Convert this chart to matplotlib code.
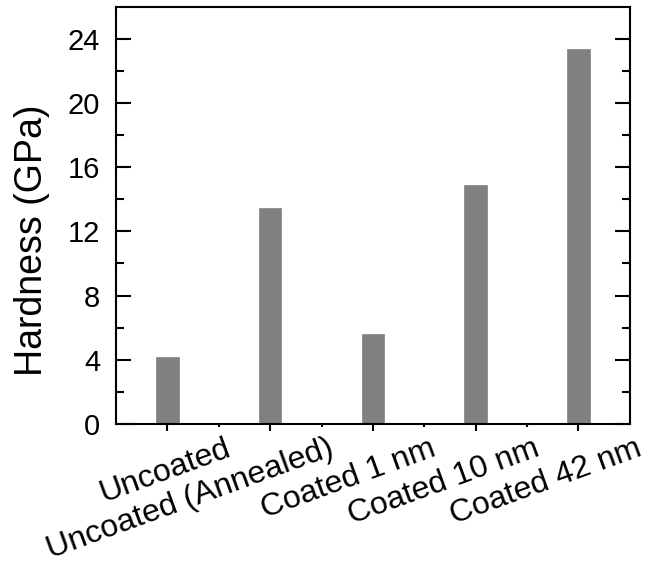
import matplotlib.pyplot as plt
import matplotlib.transforms as mtransforms
import numpy as np

plt.rcParams['font.family'] = ['Liberation Sans', 'DejaVu Sans']

samples = ["Uncoated", "Uncoated (Annealed)", "Coated 1 nm", "Coated 10 nm", "Coated 42 nm"]
hardness = [4.18, 13.45, 5.6, 14.9, 23.35]

fig = plt.figure(figsize=(6.48, 5.69), dpi=100)
ax = fig.add_axes([0.179, 0.255, 0.793, 0.733])

x = np.arange(len(samples))
ax.bar(x, hardness, width=0.22, color="#808080", edgecolor="#8c8c8c", linewidth=0.6)

ax.set_xlim(-0.5, len(samples) - 0.5)
ax.set_ylim(0, 26)
ax.set_yticks(np.arange(0, 25, 4))
ax.set_yticks(np.arange(2, 26, 4), minor=True)
ax.set_xticks(x)
ax.set_xticks(x[:-1] + 0.5, minor=True)
ax.set_xticklabels(samples, rotation=20, ha="right", va="top", rotation_mode="anchor")

for sp in ax.spines.values():
    sp.set_linewidth(1.5)

ax.tick_params(axis="y", which="major", direction="in", length=11, width=1.5,
               right=True, labelsize=21, pad=11.5)
ax.tick_params(axis="y", which="minor", direction="in", length=5.8, width=1.5, right=True)
ax.tick_params(axis="x", which="major", direction="out", length=5, width=1.5,
               labelsize=23, pad=2)
ax.tick_params(axis="x", which="minor", direction="out", length=2.5, width=1.5)

# shift rotated labels so their right ends sit right of the ticks
offset = mtransforms.ScaledTranslation(0.57, 0, fig.dpi_scale_trans)
for lab in ax.get_xticklabels():
    lab.set_transform(lab.get_transform() + offset)

ax.set_ylabel("Hardness (GPa)", fontsize=27)
ax.yaxis.set_label_coords(-0.128, 0.44)

fig.savefig("out.png", dpi=100)
